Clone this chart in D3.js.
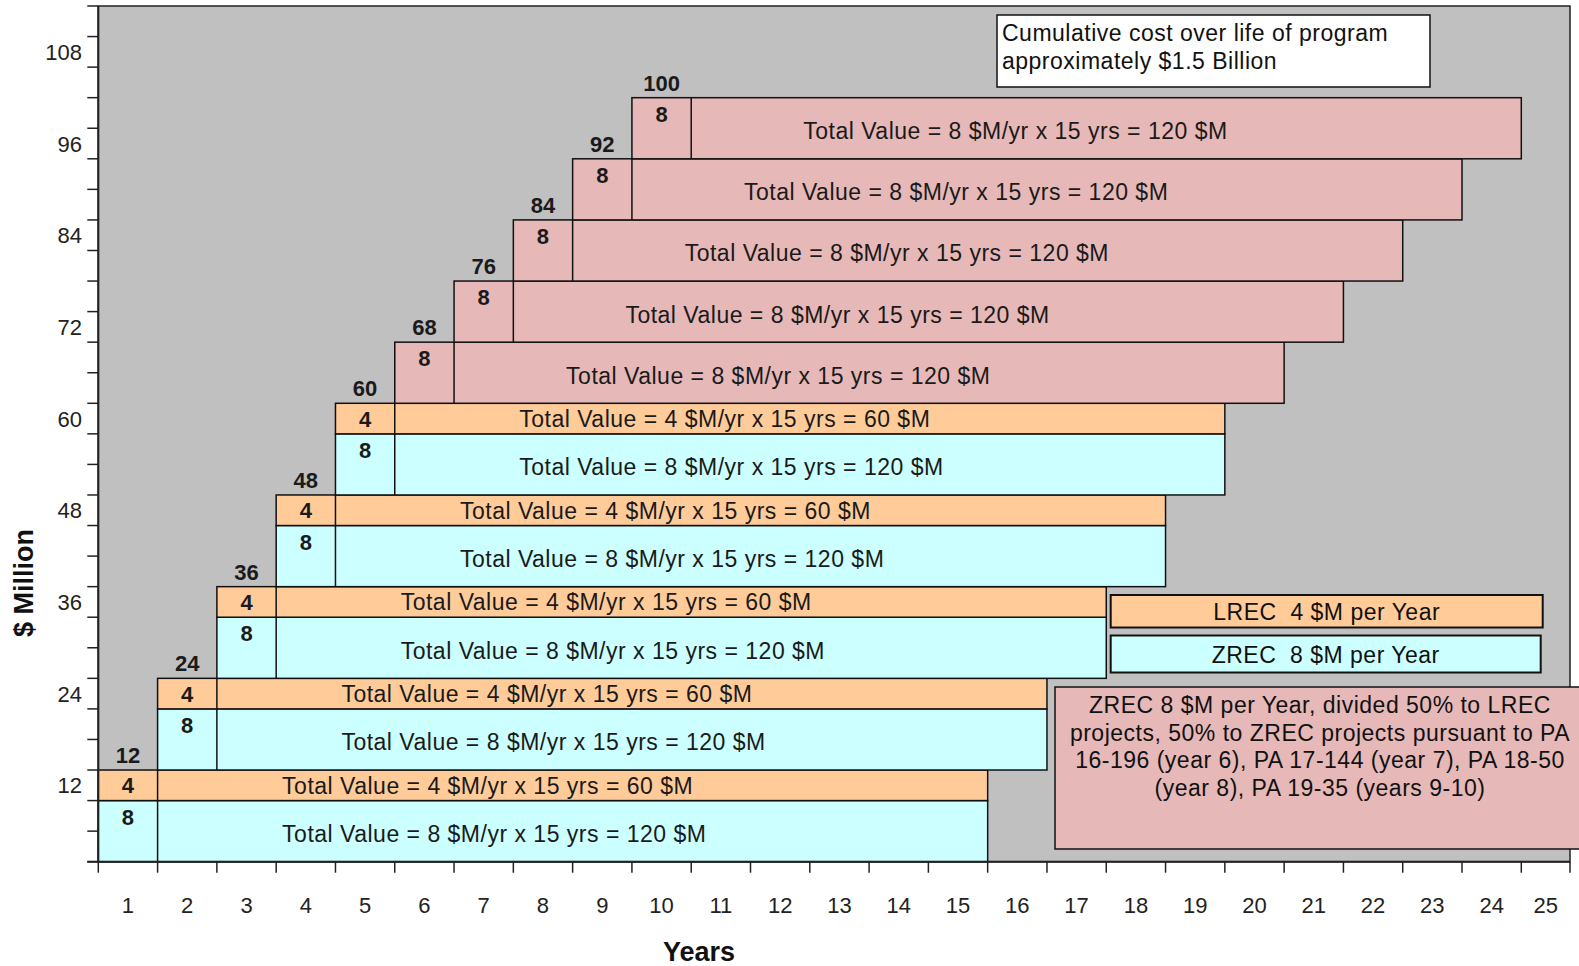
<!DOCTYPE html>
<html>
<head>
<meta charset="utf-8">
<script src="https://cdn.jsdelivr.net/npm/d3@7/dist/d3.min.js"></script>
<style>
  html, body { margin: 0; padding: 0; background: #ffffff; }
  svg { display: block; font-family: "Liberation Sans", Arial, sans-serif; }
  text { white-space: pre; }
</style>
</head>
<body>
<svg id="chart" width="1579" height="966"></svg>
<script>
// ---------------- data ----------------
const programYears   = [1, 2, 3, 4, 5, 6, 7, 8, 9, 10];
const zrecValues     = [8, 8, 8, 8, 8, 0, 0, 0, 0, 0];   // $M per year, ZREC (cyan)
const lrecValues     = [4, 4, 4, 4, 4, 0, 0, 0, 0, 0];   // $M per year, LREC (orange)
const splitValues    = [0, 0, 0, 0, 0, 8, 8, 8, 8, 8];   // $M per year, ZREC split 50/50 (pink)
const cumulativeTops = [12, 24, 36, 48, 60, 68, 76, 84, 92, 100];
const termYears      = 15;
const xTickLabels    = [1,2,3,4,5,6,7,8,9,10,11,12,13,14,15,16,17,18,19,20,21,22,23,24,25];
const yTickLabels    = [12, 24, 36, 48, 60, 72, 84, 96, 108];
const yMinorTicks    = d3.range(0, 113, 4);
const legendItems    = [
  { key: "lrec", label: "LREC  4 $M per Year" },
  { key: "zrec", label: "ZREC  8 $M per Year" }
];
const cumulativeNote = ["Cumulative cost over life of program", "approximately $1.5 Billion"];
const splitNote      = [
  "ZREC 8 $M per Year, divided 50% to LREC",
  "projects, 50% to ZREC projects pursuant to PA",
  "16-196 (year 6), PA 17-144 (year 7), PA 18-50",
  "(year 8), PA 19-35 (years 9-10)"
];

// ---------------- styles ----------------
const colors = { zrec: "#CCFFFF", lrec: "#FFCC99", split: "#E6B8B7", plot: "#C0C0C0" };
const ink = "#111";
const FS = 23;
const LS = 0.5;

const svg = d3.select("#chart");
const left = 98.3, plotTop = 6, bottom = 861.7, plotRight = 1570;

const x = d3.scaleLinear().domain([0, 24]).range([left, 1521.3]);
const y = d3.scaleLinear().domain([0, 112]).range([bottom, plotTop]);

// plot background
svg.append("rect")
  .attr("x", left).attr("y", plotTop)
  .attr("width", plotRight - left).attr("height", bottom - plotTop)
  .attr("fill", colors.plot).attr("stroke", "#222").attr("stroke-width", 1.5);

// ---------------- bars ----------------
const segments = [];
programYears.forEach((yr, i) => {
  let base = cumulativeTops[i] - (zrecValues[i] + lrecValues[i] + splitValues[i]);
  [["zrec", zrecValues[i]], ["lrec", lrecValues[i]], ["split", splitValues[i]]].forEach(([k, v]) => {
    if (v > 0) {
      segments.push({ year: yr, key: k, value: v, y0: base, y1: base + v });
      base += v;
    }
  });
});

const g = svg.append("g");
segments.forEach(s => {
  const x0 = x(s.year - 1), x1 = x(s.year - 1 + termYears), xd = x(s.year);
  const yTop = y(s.y1), yBot = y(s.y0), mid = (yTop + yBot) / 2;
  g.append("rect")
    .attr("x", x0).attr("y", yTop).attr("width", x1 - x0).attr("height", yBot - yTop)
    .attr("fill", colors[s.key]).attr("stroke", ink).attr("stroke-width", 1.5);
  g.append("line")
    .attr("x1", xd).attr("x2", xd).attr("y1", yTop).attr("y2", yBot)
    .attr("stroke", ink).attr("stroke-width", 1.5);
  // first-year value label
  g.append("text")
    .attr("x", (x0 + xd) / 2)
    .attr("y", s.value <= 4 ? mid + 8 : yTop + 24)
    .attr("text-anchor", "middle")
    .attr("font-size", 22).attr("font-weight", "bold").attr("fill", "#1a1a1a")
    .text(s.value);
  // total value text
  const off = s.key === "split" ? 2.89 : 3.1;
  g.append("text")
    .attr("x", x(s.year - 1 + off))
    .attr("y", s.value <= 4 ? mid + 8.3 : mid + 11)
    .attr("font-size", FS).attr("letter-spacing", LS).attr("fill", "#1a1a1a")
    .text(`Total Value = ${s.value} $M/yr x ${termYears} yrs = ${s.value * termYears} $M`);
});

// cumulative top labels
programYears.forEach((yr, i) => {
  svg.append("text")
    .attr("x", x(yr - 0.5)).attr("y", y(cumulativeTops[i]) - 7)
    .attr("text-anchor", "middle")
    .attr("font-size", 22).attr("font-weight", "bold").attr("fill", "#1a1a1a")
    .text(cumulativeTops[i]);
});

// ---------------- axes ----------------
const axisG = svg.append("g");
yMinorTicks.forEach(v => {
  axisG.append("line")
    .attr("x1", left - 11).attr("x2", left).attr("y1", y(v)).attr("y2", y(v))
    .attr("stroke", "#222").attr("stroke-width", 1.5);
});
yTickLabels.forEach(v => {
  axisG.append("text")
    .attr("x", 82).attr("y", y(v - 2) + 8)
    .attr("text-anchor", "end").attr("font-size", 22).attr("fill", "#222")
    .text(v);
});
const xTickPos = d3.range(0, 25).map(d => x(d)).concat([plotRight]);
xTickPos.forEach(px => {
  axisG.append("line")
    .attr("x1", px).attr("x2", px).attr("y1", bottom).attr("y2", bottom + 11)
    .attr("stroke", "#222").attr("stroke-width", 1.5);
});
xTickLabels.forEach((lab, i) => {
  const a = x(i), b = Math.min(x(i + 1), plotRight);
  axisG.append("text")
    .attr("x", (a + b) / 2).attr("y", 913)
    .attr("text-anchor", "middle").attr("font-size", 22).attr("fill", "#222")
    .text(lab);
});
axisG.append("line").attr("x1", left).attr("x2", left).attr("y1", plotTop).attr("y2", bottom)
  .attr("stroke", "#222").attr("stroke-width", 2);
axisG.append("line").attr("x1", left - 11).attr("x2", plotRight).attr("y1", bottom).attr("y2", bottom)
  .attr("stroke", "#222").attr("stroke-width", 2);

// axis titles
svg.append("text")
  .attr("x", 699).attr("y", 961).attr("text-anchor", "middle")
  .attr("font-size", 27).attr("font-weight", "bold").attr("fill", "#111")
  .text("Years");
svg.append("text")
  .attr("transform", "translate(33,583) rotate(-90)")
  .attr("text-anchor", "middle")
  .attr("font-size", 27).attr("font-weight", "bold").attr("fill", "#111")
  .text("$ Million");

// ---------------- annotation boxes ----------------
svg.append("rect").attr("x", 997).attr("y", 15).attr("width", 433).attr("height", 72)
  .attr("fill", "#fff").attr("stroke", ink).attr("stroke-width", 1.5);
cumulativeNote.forEach((t, i) => {
  svg.append("text").attr("x", 1002).attr("y", 41 + i * 27.5)
    .attr("font-size", FS).attr("letter-spacing", LS).attr("fill", "#111").text(t);
});

// legend
const legendBoxes = [
  { x0: 1110.7, x1: 1542.7, y0: 595, y1: 627.5 },
  { x0: 1110.7, x1: 1540.7, y0: 635.5, y1: 672.5 }
];
legendItems.forEach((item, i) => {
  const b = legendBoxes[i];
  svg.append("rect").attr("x", b.x0).attr("y", b.y0).attr("width", b.x1 - b.x0).attr("height", b.y1 - b.y0)
    .attr("fill", colors[item.key]).attr("stroke", ink).attr("stroke-width", 2);
  svg.append("text").attr("x", (b.x0 + b.x1) / 2).attr("y", (b.y0 + b.y1) / 2 + 8.5)
    .attr("text-anchor", "middle").attr("font-size", FS).attr("letter-spacing", LS).attr("fill", "#111")
    .text(item.label);
});

// split note
svg.append("rect").attr("x", 1055).attr("y", 687).attr("width", 560).attr("height", 162)
  .attr("fill", colors.split).attr("stroke", ink).attr("stroke-width", 1.5);
splitNote.forEach((t, i) => {
  svg.append("text").attr("x", 1320).attr("y", 713 + i * 27.5)
    .attr("text-anchor", "middle").attr("font-size", FS).attr("letter-spacing", LS).attr("fill", "#111")
    .text(t);
});
</script>
</body>
</html>
